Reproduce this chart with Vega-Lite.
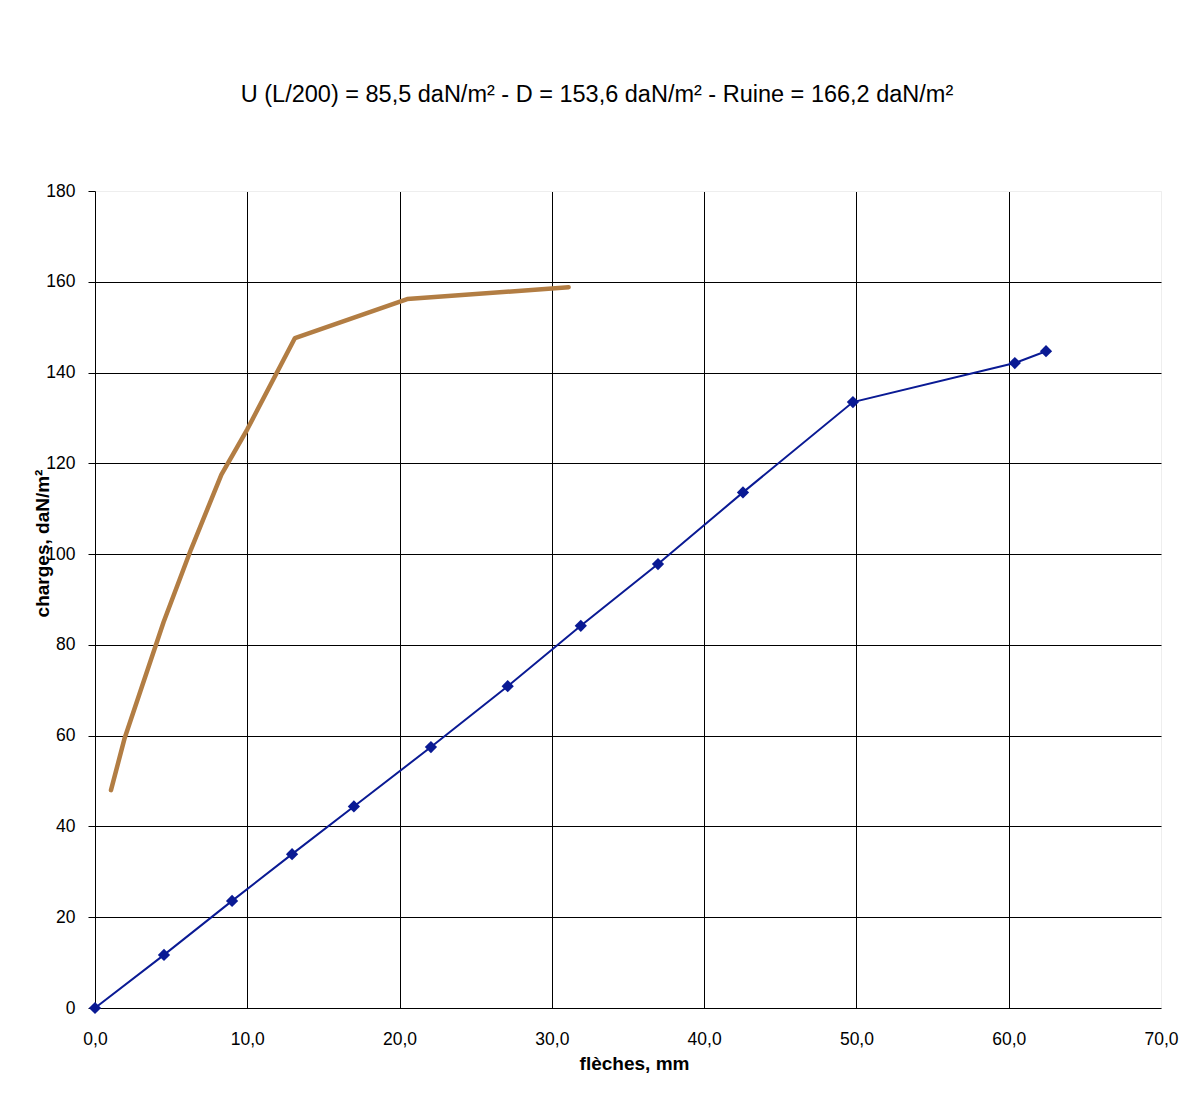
{
  "$schema": "https://vega.github.io/schema/vega-lite/v6.json",
  "width": 1066,
  "height": 817,
  "autosize": {"type": "none"},
  "padding": {"left": 95, "top": 191, "right": 37, "bottom": 109},
  "background": "white",
  "config": {
    "font": "Liberation Sans",
    "view": {"stroke": "#eeeeee", "strokeWidth": 1},
    "axis": {
      "labelFont": "Liberation Sans",
      "titleFont": "Liberation Sans",
      "labelColor": "#000000",
      "titleColor": "#000000",
      "labelFontSize": 17.5,
      "titleFontSize": 19,
      "titleFontWeight": "bold",
      "domainColor": "#000000",
      "tickColor": "#000000",
      "gridOpacity": 1,
      "gridWidth": 1,
      "domainWidth": 1
    }
  },
  "title": {
    "text": "U (L/200) = 85,5 daN/m² - D = 153,6 daN/m² - Ruine = 166,2 daN/m²",
    "font": "Liberation Sans",
    "fontSize": 23.5,
    "fontWeight": "normal",
    "color": "#000000",
    "anchor": "middle",
    "frame": "group",
    "baseline": "middle",
    "offset": 64,
    "dx": -31
  },
  "datasets": {
    "essai": [
      {"fleche": 0.0, "charge": 0.0},
      {"fleche": 4.53, "charge": 11.7},
      {"fleche": 9.0, "charge": 23.6},
      {"fleche": 12.94, "charge": 33.9},
      {"fleche": 17.0, "charge": 44.4},
      {"fleche": 22.06, "charge": 57.5},
      {"fleche": 27.1, "charge": 70.9},
      {"fleche": 31.9, "charge": 84.2},
      {"fleche": 36.97, "charge": 97.8},
      {"fleche": 42.55, "charge": 113.6},
      {"fleche": 49.77, "charge": 133.5},
      {"fleche": 60.4, "charge": 142.1},
      {"fleche": 62.45, "charge": 144.7}
    ],
    "courbe": [
      {"fleche": 1.05, "charge": 48.0},
      {"fleche": 1.95, "charge": 59.5},
      {"fleche": 3.1, "charge": 71.0},
      {"fleche": 4.5, "charge": 85.0},
      {"fleche": 6.3, "charge": 101.0},
      {"fleche": 8.3, "charge": 117.5},
      {"fleche": 10.0, "charge": 127.5},
      {"fleche": 13.13, "charge": 147.6},
      {"fleche": 20.5, "charge": 156.2},
      {"fleche": 31.1, "charge": 158.8}
    ]
  },
  "encoding": {
    "x": {
      "field": "fleche",
      "type": "quantitative",
      "scale": {"domain": [0, 70], "nice": false, "zero": false},
      "axis": {
        "title": "flèches, mm",
        "values": [0, 10, 20, 30, 40, 50, 60, 70],
        "labelExpr": "replace(format(datum.value, '.1f'), '.', ',')",
        "ticks": false,
        "labelPadding": 22,
        "labelFlush": false,
        "grid": true,
        "gridColor": {"condition": {"test": "datum.value == 70 || datum.value == 0", "value": "#eeeeee"}, "value": "#000000"},
        "titleX": 539,
        "titleY": 55,
        "titleAnchor": null,
        "titleAlign": "center",
        "titleBaseline": "middle"
      }
    },
    "y": {
      "field": "charge",
      "type": "quantitative",
      "scale": {"domain": [0, 180], "nice": false},
      "axis": {
        "title": "charges, daN/m²",
        "values": [0, 20, 40, 60, 80, 100, 120, 140, 160, 180],
        "tickSize": 7,
        "labelPadding": 13,
        "labelFlush": false,
        "grid": true,
        "gridColor": {"condition": {"test": "datum.value == 180 || datum.value == 0", "value": "#eeeeee"}, "value": "#000000"},
        "titleX": -53,
        "titleY": 352,
        "titleAngle": -90,
        "titleAlign": "center",
        "titleBaseline": "middle"
      }
    }
  },
  "layer": [
    {
      "data": {"name": "courbe"},
      "mark": {"type": "line", "color": "#b27d43", "strokeWidth": 4.5, "strokeCap": "round", "strokeJoin": "round"}
    },
    {
      "data": {"name": "essai"},
      "mark": {"type": "line", "color": "#0a1a94", "strokeWidth": 2}
    },
    {
      "data": {"name": "essai"},
      "mark": {"type": "point", "shape": "diamond", "filled": true, "color": "#0a1a94", "size": 150, "opacity": 1}
    }
  ]
}
